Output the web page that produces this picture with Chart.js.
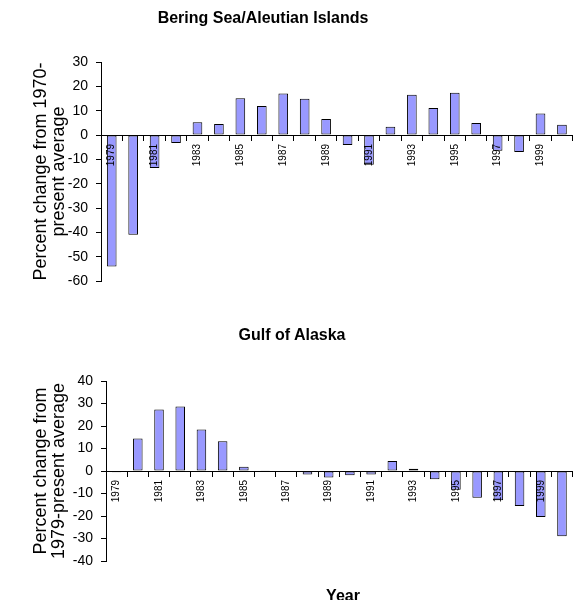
<!DOCTYPE html>
<html>
<head>
<meta charset="utf-8">
<script src="https://cdn.jsdelivr.net/npm/chart.js@4/dist/chart.umd.min.js"></script>
<style>
  html, body { margin: 0; padding: 0; background: #fff; }
  body { width: 578px; height: 600px; position: relative; overflow: hidden; font-family: "Liberation Sans", Arial, sans-serif; }
  .panel { position: absolute; left: 0; width: 578px; height: 300px; }
  .title { position: absolute; font-weight: bold; font-size: 16px; color: #000; white-space: nowrap; transform: translate(-50%, -50%); }
</style>
</head>
<body>
<div class="panel" style="top:0"><canvas id="bering" width="578" height="300"></canvas></div>
<div class="panel" style="top:300px"><canvas id="gulf" width="578" height="300"></canvas></div>
<div class="title" style="left:263px; top:18px">Bering Sea/Aleutian Islands</div>
<div class="title" style="left:292px; top:335px">Gulf of Alaska</div>
<div class="title" style="left:343px; top:596px">Year</div>
<script>
// Survey years shared by both regions
const years = ['1979','1980','1981','1982','1983','1984','1985','1986','1987','1988','1989',
               '1990','1991','1992','1993','1994','1995','1996','1997','1998','1999','2000'];

// Percent change, Bering Sea / Aleutian Islands
const beringValues = [-54, -41, -13.6, -3.3, 5.2, 4.5, 15.1, 11.9, 17.1, 14.9, 6.6,
                      -4.1, -12.2, 3.4, 16.5, 11.1, 17.4, 4.9, -6.5, -7.0, 8.8, 4.2];

// Percent change, Gulf of Alaska
const gulfValues = [-0.5, 14.4, 27.3, 28.7, 18.5, 13.2, 1.9, 0.3, -0.2, -1.6, -2.9,
                    -1.9, -1.6, 4.4, 1.0, -3.7, -8.3, -11.9, -13.0, -15.6, -20.4, -29.0];

// Y-axis ranges and titles
const beringRange = { min: -60, max: 30 };
const gulfRange = { min: -40, max: 40 };
const beringAxisTitle = ['Percent change from 1970-', 'present average'];
const gulfAxisTitle = ['Percent change from', '1979-present average'];

const FONT = '"Liberation Sans", Arial, sans-serif';

function makeChart(id, values, range, axisTitle, axisWidth, pad) {
  return new Chart(document.getElementById(id), {
    type: 'bar',
    data: {
      labels: years,
      datasets: [{
        data: values,
        backgroundColor: '#9999ff',
        borderColor: '#000000',
        borderWidth: 1,
        borderSkipped: false,
        categoryPercentage: 1,
        barPercentage: 0.45
      }]
    },
    options: {
      responsive: false,
      animation: false,
      events: [],
      layout: { padding: pad },
      plugins: { legend: { display: false }, tooltip: { enabled: false }, title: { display: false } },
      scales: {
        x: {
          type: 'category',
          position: { y: 0 },
          offset: true,
          grid: { offset: true, drawOnChartArea: false, drawTicks: true, tickLength: 5, tickColor: '#000', lineWidth: 1 },
          border: { display: true, color: '#000', width: 1, z: 1 },
          ticks: {
            z: 1, // year labels sit on top of the bars
            autoSkip: false,
            minRotation: 90,
            maxRotation: 90,
            padding: 4,
            color: '#000',
            font: { family: FONT, size: 10 },
            callback: function (val, idx) { return idx % 2 === 0 ? this.getLabelForValue(val) : ''; }
          }
        },
        y: {
          min: range.min,
          max: range.max,
          afterFit: (scale) => { scale.width = axisWidth; },
          grid: { drawOnChartArea: false, drawTicks: true, tickLength: 5, tickColor: '#000' },
          border: { display: true, color: '#000', width: 1 },
          ticks: { stepSize: 10, padding: 8, color: '#000', font: { family: FONT, size: 14 } },
          title: {
            display: true,
            text: axisTitle,
            color: '#000',
            font: { family: FONT, size: 18, lineHeight: 1.0 },
            padding: { top: 32, bottom: 0 }
          }
        }
      }
    }
  });
}

makeChart('bering', beringValues, beringRange, beringAxisTitle, 101, { top: 62, bottom: 19, left: 0, right: 2 });
makeChart('gulf', gulfValues, gulfRange, gulfAxisTitle, 106, { top: 81, bottom: 39, left: 0, right: 1 });
</script>
</body>
</html>
